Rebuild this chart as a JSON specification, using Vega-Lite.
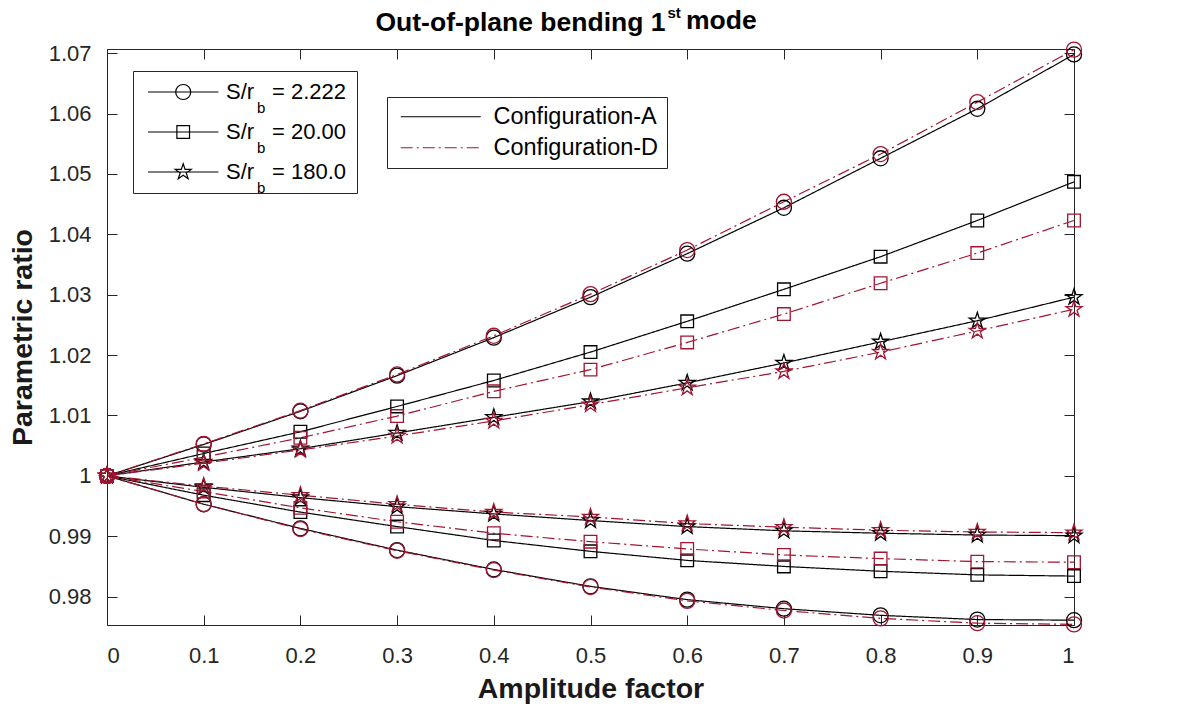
{
  "$schema": "https://vega.github.io/schema/vega-lite/v6.json",
  "width": 967,
  "height": 576,
  "autosize": {"type": "none"},
  "padding": {"left": 107, "top": 49, "right": 117, "bottom": 83},
  "background": "white",
  "title": {
    "text": "mode",
    "anchor": "start",
    "frame": "group",
    "orient": "top",
    "offset": 0,
    "dx": 579,
    "dy": 50,
    "baseline": "alphabetic",
    "font": "Liberation Sans",
    "fontSize": 26.5,
    "fontWeight": "bold",
    "color": "#000000"
  },
  "config": {
    "view": {"stroke": null},
    "font": "Liberation Sans",
    "axis": {
      "grid": false,
      "domainColor": "#262626",
      "tickColor": "#262626",
      "labelColor": "#262626",
      "titleColor": "#1a1a1a",
      "domainWidth": 1,
      "tickWidth": 1,
      "tickSize": -10,
      "labelFont": "Liberation Sans",
      "labelFontSize": 22,
      "titleFont": "Liberation Sans",
      "titleFontWeight": "bold"
    },
    "legend": {"labelFont": "Liberation Sans"}
  },
  "data": {
    "values": [
      {"amp": 0, "ratio": 1, "config": "A", "sr": "2.222", "branch": "upper"},
      {"amp": 0.1, "ratio": 1.0052, "config": "A", "sr": "2.222", "branch": "upper"},
      {"amp": 0.2, "ratio": 1.0107, "config": "A", "sr": "2.222", "branch": "upper"},
      {"amp": 0.3, "ratio": 1.0166, "config": "A", "sr": "2.222", "branch": "upper"},
      {"amp": 0.4, "ratio": 1.0229, "config": "A", "sr": "2.222", "branch": "upper"},
      {"amp": 0.5, "ratio": 1.0296, "config": "A", "sr": "2.222", "branch": "upper"},
      {"amp": 0.6, "ratio": 1.0368, "config": "A", "sr": "2.222", "branch": "upper"},
      {"amp": 0.7, "ratio": 1.0444, "config": "A", "sr": "2.222", "branch": "upper"},
      {"amp": 0.8, "ratio": 1.0526, "config": "A", "sr": "2.222", "branch": "upper"},
      {"amp": 0.9, "ratio": 1.0608, "config": "A", "sr": "2.222", "branch": "upper"},
      {"amp": 1, "ratio": 1.0698, "config": "A", "sr": "2.222", "branch": "upper"},
      {"amp": 0, "ratio": 1, "config": "A", "sr": "2.222", "branch": "lower"},
      {"amp": 0.1, "ratio": 0.9953, "config": "A", "sr": "2.222", "branch": "lower"},
      {"amp": 0.2, "ratio": 0.9913, "config": "A", "sr": "2.222", "branch": "lower"},
      {"amp": 0.3, "ratio": 0.9877, "config": "A", "sr": "2.222", "branch": "lower"},
      {"amp": 0.4, "ratio": 0.9845, "config": "A", "sr": "2.222", "branch": "lower"},
      {"amp": 0.5, "ratio": 0.9817, "config": "A", "sr": "2.222", "branch": "lower"},
      {"amp": 0.6, "ratio": 0.9795, "config": "A", "sr": "2.222", "branch": "lower"},
      {"amp": 0.7, "ratio": 0.978, "config": "A", "sr": "2.222", "branch": "lower"},
      {"amp": 0.8, "ratio": 0.9769, "config": "A", "sr": "2.222", "branch": "lower"},
      {"amp": 0.9, "ratio": 0.9762, "config": "A", "sr": "2.222", "branch": "lower"},
      {"amp": 1, "ratio": 0.9761, "config": "A", "sr": "2.222", "branch": "lower"},
      {"amp": 0, "ratio": 1, "config": "A", "sr": "20.00", "branch": "upper"},
      {"amp": 0.1, "ratio": 1.0037, "config": "A", "sr": "20.00", "branch": "upper"},
      {"amp": 0.2, "ratio": 1.0073, "config": "A", "sr": "20.00", "branch": "upper"},
      {"amp": 0.3, "ratio": 1.0115, "config": "A", "sr": "20.00", "branch": "upper"},
      {"amp": 0.4, "ratio": 1.0158, "config": "A", "sr": "20.00", "branch": "upper"},
      {"amp": 0.5, "ratio": 1.0205, "config": "A", "sr": "20.00", "branch": "upper"},
      {"amp": 0.6, "ratio": 1.0256, "config": "A", "sr": "20.00", "branch": "upper"},
      {"amp": 0.7, "ratio": 1.0309, "config": "A", "sr": "20.00", "branch": "upper"},
      {"amp": 0.8, "ratio": 1.0363, "config": "A", "sr": "20.00", "branch": "upper"},
      {"amp": 0.9, "ratio": 1.0423, "config": "A", "sr": "20.00", "branch": "upper"},
      {"amp": 1, "ratio": 1.0487, "config": "A", "sr": "20.00", "branch": "upper"},
      {"amp": 0, "ratio": 1, "config": "A", "sr": "20.00", "branch": "lower"},
      {"amp": 0.1, "ratio": 0.9968, "config": "A", "sr": "20.00", "branch": "lower"},
      {"amp": 0.2, "ratio": 0.994, "config": "A", "sr": "20.00", "branch": "lower"},
      {"amp": 0.3, "ratio": 0.9916, "config": "A", "sr": "20.00", "branch": "lower"},
      {"amp": 0.4, "ratio": 0.9893, "config": "A", "sr": "20.00", "branch": "lower"},
      {"amp": 0.5, "ratio": 0.9875, "config": "A", "sr": "20.00", "branch": "lower"},
      {"amp": 0.6, "ratio": 0.986, "config": "A", "sr": "20.00", "branch": "lower"},
      {"amp": 0.7, "ratio": 0.985, "config": "A", "sr": "20.00", "branch": "lower"},
      {"amp": 0.8, "ratio": 0.9842, "config": "A", "sr": "20.00", "branch": "lower"},
      {"amp": 0.9, "ratio": 0.9836, "config": "A", "sr": "20.00", "branch": "lower"},
      {"amp": 1, "ratio": 0.9834, "config": "A", "sr": "20.00", "branch": "lower"},
      {"amp": 0, "ratio": 1, "config": "A", "sr": "180.0", "branch": "upper"},
      {"amp": 0.1, "ratio": 1.0023, "config": "A", "sr": "180.0", "branch": "upper"},
      {"amp": 0.2, "ratio": 1.0045, "config": "A", "sr": "180.0", "branch": "upper"},
      {"amp": 0.3, "ratio": 1.0071, "config": "A", "sr": "180.0", "branch": "upper"},
      {"amp": 0.4, "ratio": 1.0097, "config": "A", "sr": "180.0", "branch": "upper"},
      {"amp": 0.5, "ratio": 1.0123, "config": "A", "sr": "180.0", "branch": "upper"},
      {"amp": 0.6, "ratio": 1.0154, "config": "A", "sr": "180.0", "branch": "upper"},
      {"amp": 0.7, "ratio": 1.0187, "config": "A", "sr": "180.0", "branch": "upper"},
      {"amp": 0.8, "ratio": 1.0222, "config": "A", "sr": "180.0", "branch": "upper"},
      {"amp": 0.9, "ratio": 1.0257, "config": "A", "sr": "180.0", "branch": "upper"},
      {"amp": 1, "ratio": 1.0296, "config": "A", "sr": "180.0", "branch": "upper"},
      {"amp": 0, "ratio": 1, "config": "A", "sr": "180.0", "branch": "lower"},
      {"amp": 0.1, "ratio": 0.9981, "config": "A", "sr": "180.0", "branch": "lower"},
      {"amp": 0.2, "ratio": 0.9964, "config": "A", "sr": "180.0", "branch": "lower"},
      {"amp": 0.3, "ratio": 0.9949, "config": "A", "sr": "180.0", "branch": "lower"},
      {"amp": 0.4, "ratio": 0.9937, "config": "A", "sr": "180.0", "branch": "lower"},
      {"amp": 0.5, "ratio": 0.9926, "config": "A", "sr": "180.0", "branch": "lower"},
      {"amp": 0.6, "ratio": 0.9916, "config": "A", "sr": "180.0", "branch": "lower"},
      {"amp": 0.7, "ratio": 0.9909, "config": "A", "sr": "180.0", "branch": "lower"},
      {"amp": 0.8, "ratio": 0.9905, "config": "A", "sr": "180.0", "branch": "lower"},
      {"amp": 0.9, "ratio": 0.9902, "config": "A", "sr": "180.0", "branch": "lower"},
      {"amp": 1, "ratio": 0.9901, "config": "A", "sr": "180.0", "branch": "lower"},
      {"amp": 0, "ratio": 1, "config": "D", "sr": "2.222", "branch": "upper"},
      {"amp": 0.1, "ratio": 1.0053, "config": "D", "sr": "2.222", "branch": "upper"},
      {"amp": 0.2, "ratio": 1.0108, "config": "D", "sr": "2.222", "branch": "upper"},
      {"amp": 0.3, "ratio": 1.0168, "config": "D", "sr": "2.222", "branch": "upper"},
      {"amp": 0.4, "ratio": 1.0232, "config": "D", "sr": "2.222", "branch": "upper"},
      {"amp": 0.5, "ratio": 1.0301, "config": "D", "sr": "2.222", "branch": "upper"},
      {"amp": 0.6, "ratio": 1.0374, "config": "D", "sr": "2.222", "branch": "upper"},
      {"amp": 0.7, "ratio": 1.0454, "config": "D", "sr": "2.222", "branch": "upper"},
      {"amp": 0.8, "ratio": 1.0533, "config": "D", "sr": "2.222", "branch": "upper"},
      {"amp": 0.9, "ratio": 1.0619, "config": "D", "sr": "2.222", "branch": "upper"},
      {"amp": 1, "ratio": 1.0706, "config": "D", "sr": "2.222", "branch": "upper"},
      {"amp": 0, "ratio": 1, "config": "D", "sr": "2.222", "branch": "lower"},
      {"amp": 0.1, "ratio": 0.9953, "config": "D", "sr": "2.222", "branch": "lower"},
      {"amp": 0.2, "ratio": 0.9912, "config": "D", "sr": "2.222", "branch": "lower"},
      {"amp": 0.3, "ratio": 0.9876, "config": "D", "sr": "2.222", "branch": "lower"},
      {"amp": 0.4, "ratio": 0.9844, "config": "D", "sr": "2.222", "branch": "lower"},
      {"amp": 0.5, "ratio": 0.9816, "config": "D", "sr": "2.222", "branch": "lower"},
      {"amp": 0.6, "ratio": 0.9793, "config": "D", "sr": "2.222", "branch": "lower"},
      {"amp": 0.7, "ratio": 0.9777, "config": "D", "sr": "2.222", "branch": "lower"},
      {"amp": 0.8, "ratio": 0.9764, "config": "D", "sr": "2.222", "branch": "lower"},
      {"amp": 0.9, "ratio": 0.9756, "config": "D", "sr": "2.222", "branch": "lower"},
      {"amp": 1, "ratio": 0.9754, "config": "D", "sr": "2.222", "branch": "lower"},
      {"amp": 0, "ratio": 1, "config": "D", "sr": "20.00", "branch": "upper"},
      {"amp": 0.1, "ratio": 1.0031, "config": "D", "sr": "20.00", "branch": "upper"},
      {"amp": 0.2, "ratio": 1.0063, "config": "D", "sr": "20.00", "branch": "upper"},
      {"amp": 0.3, "ratio": 1.0099, "config": "D", "sr": "20.00", "branch": "upper"},
      {"amp": 0.4, "ratio": 1.014, "config": "D", "sr": "20.00", "branch": "upper"},
      {"amp": 0.5, "ratio": 1.0176, "config": "D", "sr": "20.00", "branch": "upper"},
      {"amp": 0.6, "ratio": 1.0221, "config": "D", "sr": "20.00", "branch": "upper"},
      {"amp": 0.7, "ratio": 1.0268, "config": "D", "sr": "20.00", "branch": "upper"},
      {"amp": 0.8, "ratio": 1.0319, "config": "D", "sr": "20.00", "branch": "upper"},
      {"amp": 0.9, "ratio": 1.0369, "config": "D", "sr": "20.00", "branch": "upper"},
      {"amp": 1, "ratio": 1.0423, "config": "D", "sr": "20.00", "branch": "upper"},
      {"amp": 0, "ratio": 1, "config": "D", "sr": "20.00", "branch": "lower"},
      {"amp": 0.1, "ratio": 0.9974, "config": "D", "sr": "20.00", "branch": "lower"},
      {"amp": 0.2, "ratio": 0.9947, "config": "D", "sr": "20.00", "branch": "lower"},
      {"amp": 0.3, "ratio": 0.9924, "config": "D", "sr": "20.00", "branch": "lower"},
      {"amp": 0.4, "ratio": 0.9905, "config": "D", "sr": "20.00", "branch": "lower"},
      {"amp": 0.5, "ratio": 0.9891, "config": "D", "sr": "20.00", "branch": "lower"},
      {"amp": 0.6, "ratio": 0.9879, "config": "D", "sr": "20.00", "branch": "lower"},
      {"amp": 0.7, "ratio": 0.9869, "config": "D", "sr": "20.00", "branch": "lower"},
      {"amp": 0.8, "ratio": 0.9863, "config": "D", "sr": "20.00", "branch": "lower"},
      {"amp": 0.9, "ratio": 0.9858, "config": "D", "sr": "20.00", "branch": "lower"},
      {"amp": 1, "ratio": 0.9857, "config": "D", "sr": "20.00", "branch": "lower"},
      {"amp": 0, "ratio": 1, "config": "D", "sr": "180.0", "branch": "upper"},
      {"amp": 0.1, "ratio": 1.0021, "config": "D", "sr": "180.0", "branch": "upper"},
      {"amp": 0.2, "ratio": 1.0043, "config": "D", "sr": "180.0", "branch": "upper"},
      {"amp": 0.3, "ratio": 1.0066, "config": "D", "sr": "180.0", "branch": "upper"},
      {"amp": 0.4, "ratio": 1.0091, "config": "D", "sr": "180.0", "branch": "upper"},
      {"amp": 0.5, "ratio": 1.0118, "config": "D", "sr": "180.0", "branch": "upper"},
      {"amp": 0.6, "ratio": 1.0146, "config": "D", "sr": "180.0", "branch": "upper"},
      {"amp": 0.7, "ratio": 1.0173, "config": "D", "sr": "180.0", "branch": "upper"},
      {"amp": 0.8, "ratio": 1.0205, "config": "D", "sr": "180.0", "branch": "upper"},
      {"amp": 0.9, "ratio": 1.024, "config": "D", "sr": "180.0", "branch": "upper"},
      {"amp": 1, "ratio": 1.0276, "config": "D", "sr": "180.0", "branch": "upper"},
      {"amp": 0, "ratio": 1, "config": "D", "sr": "180.0", "branch": "lower"},
      {"amp": 0.1, "ratio": 0.9983, "config": "D", "sr": "180.0", "branch": "lower"},
      {"amp": 0.2, "ratio": 0.9968, "config": "D", "sr": "180.0", "branch": "lower"},
      {"amp": 0.3, "ratio": 0.9953, "config": "D", "sr": "180.0", "branch": "lower"},
      {"amp": 0.4, "ratio": 0.994, "config": "D", "sr": "180.0", "branch": "lower"},
      {"amp": 0.5, "ratio": 0.9932, "config": "D", "sr": "180.0", "branch": "lower"},
      {"amp": 0.6, "ratio": 0.9921, "config": "D", "sr": "180.0", "branch": "lower"},
      {"amp": 0.7, "ratio": 0.9915, "config": "D", "sr": "180.0", "branch": "lower"},
      {"amp": 0.8, "ratio": 0.991, "config": "D", "sr": "180.0", "branch": "lower"},
      {"amp": 0.9, "ratio": 0.9907, "config": "D", "sr": "180.0", "branch": "lower"},
      {"amp": 1, "ratio": 0.9906, "config": "D", "sr": "180.0", "branch": "lower"}
    ]
  },
  "layer": [
    {
      "mark": {"type": "line", "strokeWidth": 1.2},
      "encoding": {
        "x": {
          "field": "amp",
          "type": "quantitative",
          "scale": {"domain": [0, 1], "nice": false, "zero": false},
          "axis": {
            "orient": "top",
            "values": [0, 0.1, 0.2, 0.3, 0.4, 0.5, 0.6, 0.7, 0.8, 0.9, 1],
            "labels": false,
            "title": "Out-of-plane bending 1",
            "titleX": 558,
            "titleY": -19,
            "titleAlign": "right",
            "titleBaseline": "alphabetic",
            "titleFontSize": 26.5,
            "titleColor": "#000000"
          }
        },
        "y": {
          "field": "ratio",
          "type": "quantitative",
          "scale": {"domain": [0.9753, 1.0707], "nice": false, "zero": false},
          "axis": {
            "orient": "right",
            "values": [0.98, 0.99, 1, 1.01, 1.02, 1.03, 1.04, 1.05, 1.06, 1.07],
            "labels": false,
            "title": "st",
            "titleAngle": 0,
            "titleX": -407,
            "titleY": -32,
            "titleAlign": "left",
            "titleBaseline": "alphabetic",
            "titleFontSize": 15,
            "titleColor": "#000000"
          }
        },
        "detail": [
          {"field": "sr", "type": "nominal"},
          {"field": "branch", "type": "nominal"}
        ],
        "color": {
          "field": "config",
          "type": "nominal",
          "scale": {"domain": ["A", "D"], "range": ["#000000", "#A2142F"]},
          "legend": {
            "orient": "none",
            "legendX": 280,
            "legendY": 48,
            "title": null,
            "labelExpr": "'Configuration-' + datum.label",
            "labelFontSize": 23.5,
            "labelColor": "#000000",
            "labelLimit": 400,
            "padding": 8,
            "strokeColor": "#262626",
            "fillColor": "#ffffff",
            "symbolSize": 100,
            "symbolStrokeWidth": 1.2,
            "symbolOffset": 34,
            "labelOffset": 41,
            "rowPadding": 6,
            "encode": {"symbols": {"update": {"shape": {"value": "M-8,0L8,0"}}}}
          }
        },
        "strokeDash": {
          "field": "config",
          "type": "nominal",
          "scale": {"domain": ["A", "D"], "range": [[1, 0], [12, 4, 2, 4]]},
          "legend": {
            "orient": "none",
            "legendX": 280,
            "legendY": 48,
            "title": null,
            "labelExpr": "'Configuration-' + datum.label",
            "labelFontSize": 23.5,
            "labelColor": "#000000",
            "labelLimit": 400,
            "padding": 8,
            "strokeColor": "#262626",
            "fillColor": "#ffffff",
            "symbolSize": 100,
            "symbolStrokeWidth": 1.2,
            "symbolOffset": 34,
            "labelOffset": 41,
            "rowPadding": 6,
            "encode": {"symbols": {"update": {"shape": {"value": "M-8,0L8,0"}}}}
          }
        }
      }
    },
    {
      "mark": {"type": "point", "filled": false, "opacity": 1, "strokeWidth": 1.3, "size": 256},
      "encoding": {
        "x": {
          "field": "amp",
          "type": "quantitative",
          "axis": {
            "orient": "bottom",
            "values": [0, 0.1, 0.2, 0.3, 0.4, 0.5, 0.6, 0.7, 0.8, 0.9, 1],
            "format": "~g",
            "labelPadding": 30.6,
            "title": "Amplitude factor",
            "titleX": 483.5,
            "titleY": 72,
            "titleAlign": "center",
            "titleBaseline": "alphabetic",
            "titleFontSize": 28.5
          }
        },
        "y": {
          "field": "ratio",
          "type": "quantitative",
          "axis": {
            "orient": "left",
            "values": [0.98, 0.99, 1, 1.01, 1.02, 1.03, 1.04, 1.05, 1.06, 1.07],
            "format": "~g",
            "labelPadding": 26,
            "title": "Parametric ratio",
            "titleAngle": -90,
            "titleX": -75.5,
            "titleY": 288,
            "titleAlign": "center",
            "titleBaseline": "alphabetic",
            "titleFontSize": 28.5
          }
        },
        "shape": {
          "field": "sr",
          "type": "nominal",
          "scale": {
            "domain": ["2.222", "20.00", "180.0"],
            "range": [
              "M-0.94,0A0.94,0.94,0,1,1,0.94,0A0.94,0.94,0,1,1,-0.94,0Z",
              "M-0.79,-0.79L0.79,-0.79L0.79,0.79L-0.79,0.79Z",
              "M0,-1.05L0.235,-0.324L0.999,-0.324L0.38,0.124L0.617,0.849L0,0.4L-0.617,0.849L-0.38,0.124L-0.999,-0.324L-0.235,-0.324Z"
            ]
          },
          "legend": null
        },
        "stroke": {
          "field": "config",
          "type": "nominal",
          "scale": {"domain": ["A", "D"], "range": ["#000000", "#A2142F"]},
          "legend": null
        },
        "strokeWidth": {
          "field": "sr",
          "type": "ordinal",
          "sort": {"field": "ratio", "op": "max", "order": "descending"},
          "scale": {"type": "ordinal", "range": [1.3, 1.3, 1.3]},
          "legend": {
            "orient": "none",
            "legendX": 26,
            "legendY": 22,
            "zindex": 0,
            "title": null,
            "padding": 10,
            "strokeColor": "#262626",
            "fillColor": "transparent",
            "labelFontSize": 22,
            "labelColor": "#000000",
            "labelLimit": 400,
            "labelExpr": "'= ' + datum.label",
            "symbolSize": 0,
            "symbolStrokeWidth": 0,
            "symbolOffset": 0,
            "labelOffset": 107,
            "rowPadding": 18,
            "encode": {"symbols": {"update": {"opacity": {"value": 0}}}}
          }
        },
        "size": {
          "field": "sr",
          "type": "ordinal",
          "sort": {"field": "ratio", "op": "min", "order": "ascending"},
          "scale": {"type": "ordinal", "range": [256, 256, 256]},
          "legend": {
            "orient": "none",
            "legendX": 134,
            "legendY": 56,
            "zindex": 1,
            "title": null,
            "padding": 0,
            "labelExpr": "'b'",
            "labelFontSize": 15,
            "labelColor": "#000000",
            "labelBaseline": "alphabetic",
            "symbolStrokeWidth": 0,
            "symbolOffset": 0,
            "labelOffset": 0,
            "rowPadding": 20,
            "encode": {"symbols": {"update": {"opacity": {"value": 0}}}}
          }
        }
      }
    },
    {
      "mark": {"type": "point", "filled": false, "opacity": 0, "stroke": "#000000", "strokeWidth": 1.2, "size": 256},
      "encoding": {
        "x": {"field": "amp", "type": "quantitative", "axis": null},
        "y": {"field": "ratio", "type": "quantitative", "axis": null},
        "shape": {
          "field": "sr",
          "type": "nominal",
          "scale": {
            "domain": ["2.222", "20.00", "180.0"],
            "range": [
              "M-4.4,0L4.4,0M-0.94,0A0.94,0.94,0,1,1,0.94,0A0.94,0.94,0,1,1,-0.94,0Z",
              "M-4.4,0L4.4,0M-0.79,-0.79L0.79,-0.79L0.79,0.79L-0.79,0.79Z",
              "M-4.4,0L4.4,0M0,-1.05L0.235,-0.324L0.999,-0.324L0.38,0.124L0.617,0.849L0,0.4L-0.617,0.849L-0.38,0.124L-0.999,-0.324L-0.235,-0.324Z"
            ]
          },
          "legend": {
            "orient": "top-left",
            "offset": 32,
            "zindex": 2,
            "title": null,
            "padding": 0,
            "labelFontSize": 22,
            "labelColor": "#000000",
            "labelLimit": 400,
            "labelExpr": "'S/r'",
            "symbolSize": 256,
            "symbolStrokeWidth": 1.2,
            "symbolStrokeColor": "#000000",
            "symbolFillColor": "transparent",
            "symbolOpacity": 1,
            "symbolOffset": 33.2,
            "labelOffset": 31.8,
            "rowPadding": 18
          }
        }
      }
    }
  ],
  "resolve": {
    "axis": {"x": "independent", "y": "independent"},
    "scale": {"shape": "independent"}
  }
}
